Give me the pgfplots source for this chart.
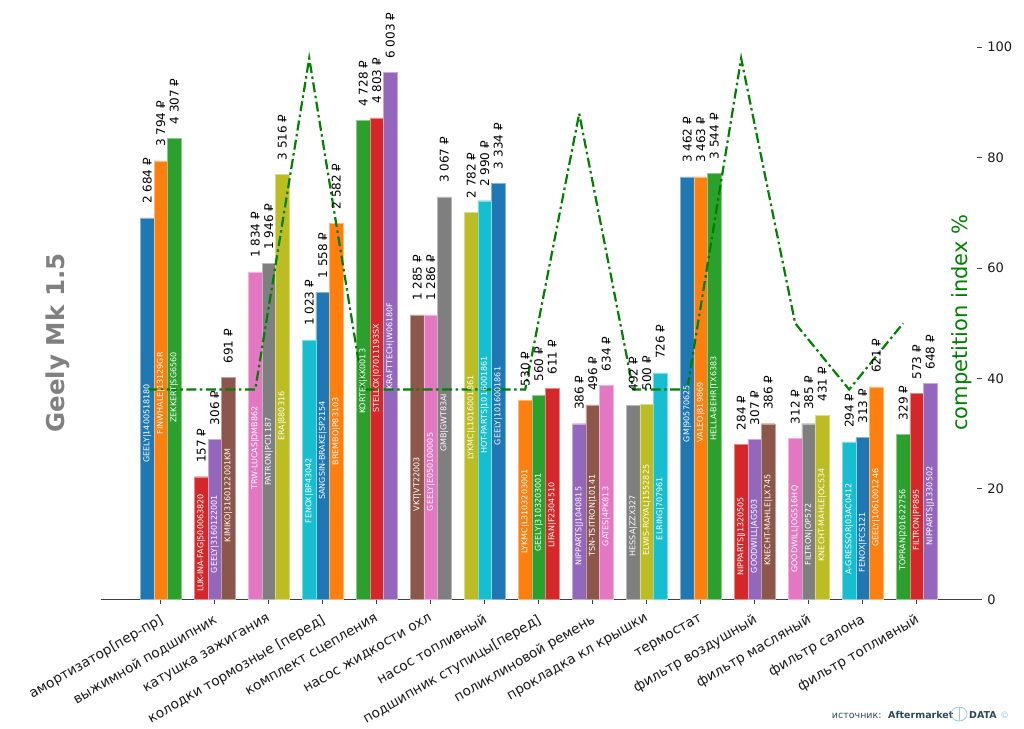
\documentclass[border=0pt]{standalone}
\usepackage{fontspec}
\setmainfont{DejaVu Sans}
\usepackage{pgfplots}
\usepackage{pgfplotstable}
\pgfplotsset{compat=1.18}
\definecolor{c0}{HTML}{1F77B4}
\definecolor{c1}{HTML}{FF7F0E}
\definecolor{c2}{HTML}{2CA02C}
\definecolor{c3}{HTML}{D62728}
\definecolor{c4}{HTML}{9467BD}
\definecolor{c5}{HTML}{8C564B}
\definecolor{c6}{HTML}{E377C2}
\definecolor{c7}{HTML}{7F7F7F}
\definecolor{c8}{HTML}{BCBD22}
\definecolor{c9}{HTML}{17BECF}
\definecolor{lgreen}{HTML}{008000}
\definecolor{srcgray}{HTML}{2F4858}
\definecolor{lblue}{HTML}{9CC8E8}

\pgfplotstableread[col sep=semicolon]{
x;h;price;name;c
0;69.1;2 684 ₽;GEELY|1400518180;0
0.25;79.4;3 794 ₽;FINWHALE|13129GR;1
0.5;83.5;4 307 ₽;ZEKKERT|SG6560;2
1;22.2;157 ₽;LUK-INA-FAG|500063820;3
1.25;29.0;306 ₽;GEELY|3160122001;4
1.5;40.2;691 ₽;KIMIKO|3160122001KM;5
2;59.3;1 834 ₽;TRW-LUCAS|DMB862;6
2.25;60.8;1 946 ₽;PATRON|PCI1187;7
2.5;77.0;3 516 ₽;ERA|880316;8
3;47.0;1 023 ₽;FENOX|BP43042;9
3.25;55.6;1 558 ₽;SANGSIN-BRAKE|SP2154;0
3.5;68.1;2 582 ₽;BREMBO|P83103;1
4;86.7;4 728 ₽;KORTEX|KK0013;2
4.25;87.2;4 803 ₽;STELLOX|07011193SX;3
4.5;95.4;6 003 ₽;KRAFTTECH|W06180F;4
5;51.5;1 285 ₽;VKT|VT22003;5
5.25;51.5;1 286 ₽;GEELY|E050100005;6
5.5;72.9;3 067 ₽;GMB|GWT83AI;7
6;70.1;2 782 ₽;LYKMC|L1016001861;8
6.25;72.2;2 990 ₽;HOT-PARTS|1016001861;9
6.5;75.4;3 334 ₽;GEELY|1016001861;0
7;36.1;530 ₽;LYKMC|L3103203001;1
7.25;36.9;560 ₽;GEELY|3103203001;2
7.5;38.2;611 ₽;LIFAN|F2304510;3
8;31.8;386 ₽;NIPPARTS|J1040815;4
8.25;35.2;496 ₽;TSN-TSITRON|10141;5
8.5;38.8;634 ₽;GATES|4PK813;6
9;35.1;492 ₽;HESSA|ZZX327;7
9.25;35.3;500 ₽;ELWIS-ROYAL|1552825;8
9.5;41.0;726 ₽;ELRING|707961;9
10;76.5;3 462 ₽;GM|90570625;0
10.25;76.5;3 463 ₽;VALEO|819869;1
10.5;77.2;3 544 ₽;HELLA-BEHR|TX6383;2
11;28.1;284 ₽;NIPPARTS|J1320505;3
11.25;29.0;307 ₽;GOODWILL|AG503;4
11.5;31.8;386 ₽;KNECHT-MAHLE|LX745;5
12;29.2;312 ₽;GOODWILL|OG516HQ;6
12.25;31.8;385 ₽;FILTRON|OP572;7
12.5;33.3;431 ₽;KNECHT-MAHLE|OC534;8
13;28.5;294 ₽;A-GRESSOR|03AC0412;9
13.25;29.3;313 ₽;FENOX|FCS121;0
13.5;38.5;621 ₽;GEELY|1061001246;1
14;29.9;329 ₽;TOPRAN|201622756;2
14.25;37.3;573 ₽;FILTRON|PP895;3
14.5;39.1;648 ₽;NIPPARTS|J1330502;4
}\bars

\pgfplotstableread{
k v
0 38
1 38
2 38
3 98
4 38
5 38
6 38
7 38
8 88
9 38
10 38
11 98
12 50
13 38
14 50
}\comp

\begin{document}
\begin{tikzpicture}
\path[use as bounding box] (0,0) rectangle (1024bp,729bp);
\begin{axis}[
  at={(100.7bp,129.7bp)}, anchor=south west,
  scale only axis, width=876bp, height=553.7bp,
  xmin=-0.8625, xmax=15.3625, ymin=0, ymax=100.3,
  axis x line*=bottom, axis y line*=right,
  y axis line style={draw=none},
  x axis line style={draw=black!75, line width=1.1bp, -},
  xtick={0.25,1.25,2.25,3.25,4.25,5.25,6.25,7.25,8.25,9.25,10.25,11.25,12.25,13.25,14.25},
  xticklabels={{амортизатор[пер-пр]},{выжимной подшипник},{катушка зажигания},{колодки тормозные [перед]},{комплект сцепления},{насос жидкости охл},{насос топливный},{подшипник ступицы[перед]},{поликлиновой ремень},{прокладка кл крышки},{термостат},{фильтр воздушный},{фильтр масляный},{фильтр салона},{фильтр топливный}},
  ytick={0,20,40,60,80,100},
  tick align=outside,
  major tick length=5bp,
  tick style={draw=black!75, line width=1bp},
  xticklabel style={yshift=-9bp, xshift=-2bp, rotate=30, anchor=north east, inner sep=0pt, font=\fontsize{13.6bp}{16bp}\selectfont, text=black!90},
  yticklabel style={xshift=5.5bp, anchor=west, inner sep=0pt, font=\fontsize{13bp}{15bp}\selectfont, text=black!90},
  /pgf/number format/assume math mode=true,
  clip=false,
]
\pgfplotsinvokeforeach{0,...,9}{
  \addplot[ybar, bar width=0.25, bar shift=0pt, fill=c#1, draw=c#1!55!white, line width=0.4bp,
    restrict expr to domain={\thisrow{c}}{#1:#1}] table[x=x,y=h]{\bars};
}
\addplot[draw=none, mark=none, nodes near coords, point meta=explicit symbolic,
  every node near coord/.style={rotate=90, anchor=west, inner sep=0pt, font=\fontsize{12bp}{14bp}\selectfont, text=black}]
  table[x=x, y expr=\thisrow{h}+2.5, meta=price]{\bars};
\addplot[draw=none, mark=none, nodes near coords, point meta=explicit symbolic,
  every node near coord/.style={rotate=90, anchor=west, inner sep=0pt, font=\fontsize{8bp}{9bp}\selectfont, text=white}]
  table[x=x, y expr=\thisrow{h}/2-9.8, meta=name]{\bars};
\addplot[color=lgreen, line width=2.2bp, dash pattern=on 10bp off 3.5bp on 2.5bp off 3.5bp, mark=none] table[x=k,y=v]{\comp};
\end{axis}
\node[rotate=90, font=\bfseries\fontsize{24.5bp}{28bp}\selectfont, text=gray] at (58bp,386bp) {Geely Mk 1.5};
\node[rotate=90, font=\fontsize{21bp}{25bp}\selectfont, text=lgreen] at (962bp,406.5bp) {competition index \%};
\node[anchor=base west, inner sep=0pt, font=\fontsize{9.5bp}{11bp}\selectfont, text=srcgray] at (831.7bp,11bp) {источник:};
\node[anchor=base west, inner sep=0pt, font=\bfseries\fontsize{9.5bp}{11bp}\selectfont, text=srcgray] at (888bp,11bp) {Aftermarket};
\draw[lblue, line width=0.8bp] (959bp,15bp) ellipse (8bp and 7bp);
\draw[lblue, line width=0.6bp] (959bp,8bp) -- (959bp,22bp);
\node[anchor=base west, inner sep=0pt, font=\bfseries\fontsize{9.5bp}{11bp}\selectfont, text=srcgray] at (969bp,11bp) {DATA};
\node[anchor=base west, inner sep=0pt, font=\fontsize{9bp}{11bp}\selectfont, text=lblue] at (1000bp,11bp) {©};
\end{tikzpicture}
\end{document}
